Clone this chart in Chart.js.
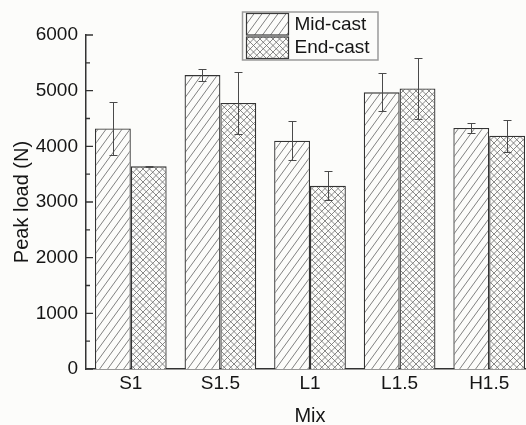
<!DOCTYPE html>
<html>
<head>
<meta charset="utf-8">
<script src="https://cdn.jsdelivr.net/npm/chart.js@4.4.0/dist/chart.umd.min.js"></script>
<style>
html, body { margin: 0; padding: 0; background: #fcfcfa; overflow: hidden; }
#wrap { width: 536px; height: 425px; }
</style>
</head>
<body>
<div id="wrap"><canvas id="peakChart" width="536" height="425"></canvas></div>
<script>
// data
var mixes = ['S1', 'S1.5', 'L1', 'L1.5', 'H1.5'];
var midCast = [4320, 5280, 4100, 4970, 4330];
var midCastErr = [480, 110, 350, 340, 90];
var endCast = [3640, 4780, 3290, 5040, 4190];
var endCastErr = [10, 560, 260, 555, 285];
var yMin = 0, yMax = 6000, yStep = 1000, yMinorStep = 500;
var errors = [midCastErr, endCastErr];

var BG = '#fcfcfa';
var INK = '#151515';
var FONT = 'Liberation Sans, Arial, sans-serif';

var canvas = document.getElementById('peakChart');
var mainCtx = canvas.getContext('2d');

// single-direction hatch, steeper than 45 degrees
function makeDiagonal(w, h) {
    var c = document.createElement('canvas');
    c.width = w;
    c.height = h;
    var g = c.getContext('2d');
    g.fillStyle = BG;
    g.fillRect(0, 0, w, h);
    g.strokeStyle = '#6a6a6a';
    g.lineWidth = 0.85;
    g.beginPath();
    for (var k = -1; k <= 1; k++) {
        g.moveTo(k * w, h);
        g.lineTo(k * w + w, 0);
    }
    g.stroke();
    return mainCtx.createPattern(c, 'repeat');
}

// 45 degree cross hatch with period p inside a square tile t (t a multiple of p)
function makeCross(p, t) {
    var c = document.createElement('canvas');
    c.width = t;
    c.height = t;
    var g = c.getContext('2d');
    g.fillStyle = BG;
    g.fillRect(0, 0, t, t);
    g.strokeStyle = '#6a6a6a';
    g.lineWidth = 0.8;
    g.beginPath();
    for (var o = -2 * t; o <= 2 * t; o += p) {
        g.moveTo(o - t, 2 * t); g.lineTo(o + 2 * t, -t);
        g.moveTo(o - t, -t); g.lineTo(o + 2 * t, 2 * t);
    }
    g.stroke();
    return mainCtx.createPattern(c, 'repeat');
}

var diagFill = makeDiagonal(8, 11);
var crossFill = makeCross(6.5, 13);

var extras = {
    id: 'extras',
    afterDatasetsDraw: function (chart) {
        var ctx = chart.ctx;
        var y = chart.scales.y;
        ctx.save();
        ctx.strokeStyle = '#4a4a4a';
        ctx.lineWidth = 1;
        chart.data.datasets.forEach(function (ds, di) {
            var meta = chart.getDatasetMeta(di);
            meta.data.forEach(function (bar, i) {
                var v = ds.data[i];
                var e = errors[di][i];
                var top = Math.round(y.getPixelForValue(v + e)) + 0.5;
                var bot = Math.round(y.getPixelForValue(v - e)) + 0.5;
                var x = Math.round(bar.x) + 0.5;
                ctx.beginPath();
                ctx.moveTo(x, top); ctx.lineTo(x, bot);
                ctx.moveTo(x - 4, top); ctx.lineTo(x + 4, top);
                ctx.moveTo(x - 4, bot); ctx.lineTo(x + 4, bot);
                ctx.stroke();
            });
        });
        ctx.restore();
    },
    afterDraw: function (chart) {
        var ctx = chart.ctx;
        var y = chart.scales.y;
        var left = chart.chartArea.left;
        ctx.save();
        // inward ticks on the y axis
        ctx.strokeStyle = '#333';
        ctx.lineWidth = 1.3;
        ctx.beginPath();
        for (var v = yMin; v <= yMax; v += yMinorStep) {
            var py = y.getPixelForValue(v);
            var len = (v % yStep === 0) ? 7 : 4;
            ctx.moveTo(left, py);
            ctx.lineTo(left + len, py);
        }
        ctx.stroke();

        // boxed legend
        ctx.fillStyle = BG;
        ctx.fillRect(242.5, 12, 135.5, 48);
        ctx.strokeStyle = '#9a9a9a';
        ctx.lineWidth = 1.5;
        ctx.strokeRect(242.5, 12, 135.5, 48);
        var rows = [13.5, 37];
        chart.data.datasets.forEach(function (ds, di) {
            ctx.fillStyle = ds.backgroundColor;
            ctx.fillRect(246.5, rows[di], 42, 21.5);
            ctx.strokeStyle = '#3a3a3a';
            ctx.lineWidth = 1.2;
            ctx.strokeRect(246.5, rows[di], 42, 21.5);
            ctx.fillStyle = INK;
            ctx.font = '19px ' + FONT;
            ctx.textBaseline = 'middle';
            ctx.textAlign = 'left';
            ctx.fillText(ds.label, 294.5, rows[di] + 11);
        });
        ctx.restore();
    }
};

var chart = new Chart(canvas, {
    type: 'bar',
    data: {
        labels: mixes,
        datasets: [
            {
                label: 'Mid-cast',
                data: midCast,
                backgroundColor: diagFill,
                borderColor: '#333',
                borderWidth: 1.3
            },
            {
                label: 'End-cast',
                data: endCast,
                backgroundColor: crossFill,
                borderColor: '#333',
                borderWidth: 1.3
            }
        ]
    },
    options: {
        responsive: false,
        animation: false,
        categoryPercentage: 0.8,
        barPercentage: 1.0,
        layout: { padding: { left: 0, right: 2, top: 35, bottom: 0 } },
        plugins: {
            legend: { display: false },
            tooltip: { enabled: false }
        },
        scales: {
            x: {
                grid: { display: false, drawTicks: false },
                border: { display: true, color: '#333', width: 1.5 },
                ticks: { color: INK, padding: 3, font: { family: FONT, size: 19 } },
                title: {
                    display: true,
                    text: 'Mix',
                    color: INK,
                    font: { family: FONT, size: 20, lineHeight: 0.9 },
                    padding: 0
                },
                afterFit: function (scale) { scale.height = 56; }
            },
            y: {
                min: yMin,
                max: yMax,
                grid: { display: false, drawTicks: false },
                border: { display: true, color: '#333', width: 1.5 },
                ticks: {
                    stepSize: yStep,
                    color: INK,
                    padding: 8,
                    font: { family: FONT, size: 19 },
                    callback: function (value) { return String(value); }
                },
                title: {
                    display: true,
                    text: 'Peak load (N)',
                    color: INK,
                    font: { family: FONT, size: 20 },
                    padding: { top: 10, bottom: 0 }
                },
                afterFit: function (scale) { scale.width = 86; }
            }
        }
    },
    plugins: [extras]
});
</script>
</body>
</html>
